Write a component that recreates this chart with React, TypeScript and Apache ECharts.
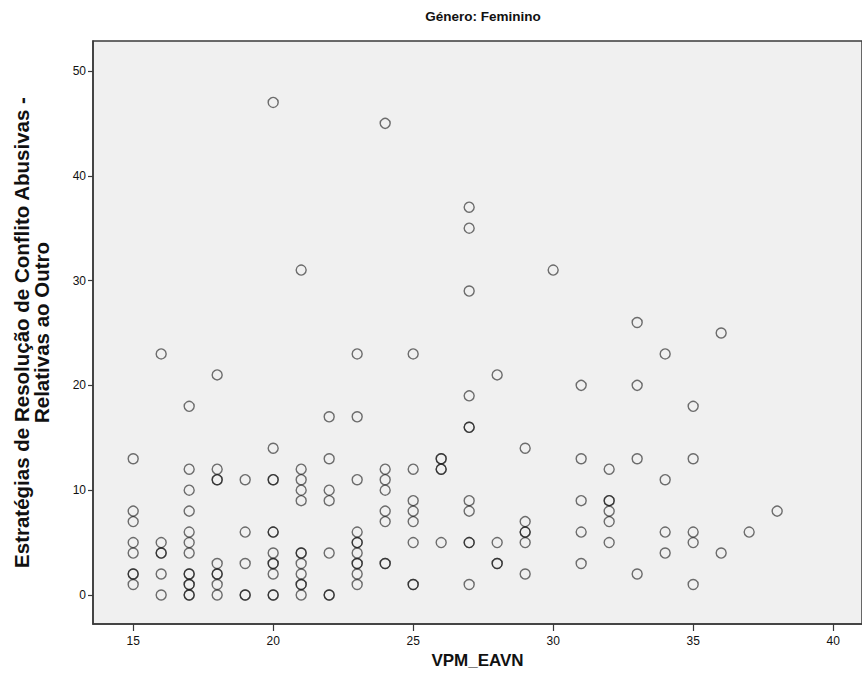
import React, { useEffect, useRef } from "react";
import * as echarts from "echarts";

// VPM_EAVN values (x) and the y values observed at each x
const vpmValues = [15, 16, 17, 18, 19, 20, 21, 22, 23, 24, 25, 26, 27, 28, 29, 30, 31, 32, 33, 34, 35, 36, 37, 38];
const abusivasByVpm: number[][] = [
  [13, 8, 7, 5, 4, 2, 2, 1],
  [23, 5, 4, 4, 2, 0],
  [18, 12, 10, 8, 6, 5, 4, 2, 2, 1, 1, 0, 0],
  [21, 12, 11, 11, 3, 2, 2, 1, 0],
  [11, 6, 3, 0, 0],
  [47, 14, 11, 11, 6, 6, 4, 3, 3, 2, 0, 0],
  [31, 12, 11, 10, 9, 4, 4, 3, 2, 1, 1, 0],
  [17, 13, 10, 9, 4, 0, 0],
  [23, 17, 11, 6, 5, 5, 4, 3, 3, 2, 1],
  [45, 12, 11, 10, 8, 7, 3, 3],
  [23, 12, 9, 8, 7, 5, 1, 1],
  [13, 13, 12, 12, 5],
  [37, 35, 29, 19, 16, 16, 9, 8, 5, 5, 1],
  [21, 5, 3, 3],
  [14, 7, 6, 6, 5, 2],
  [31],
  [20, 13, 9, 6, 3],
  [12, 9, 9, 8, 7, 5],
  [26, 20, 13, 2],
  [23, 11, 6, 4],
  [18, 13, 6, 5, 1],
  [25, 4],
  [6],
  [8],
];

const xTicks = [15, 20, 25, 30, 35, 40];
const yTicks = [0, 10, 20, 30, 40, 50];

const titleText = "Género: Feminino";
const xName = "VPM_EAVN";
const yName = "Estratégias de Resolução de Conflito Abusivas -\nRelativas ao Outro";

export default function App() {
  const ref = useRef<HTMLDivElement>(null);

  useEffect(() => {
    if (!ref.current) return;
    const chart = echarts.init(ref.current, undefined, { renderer: "svg" });
    const data: number[][] = [];
    vpmValues.forEach((x, i) => {
      abusivasByVpm[i].forEach((y) => data.push([x, y]));
    });
    const axisColor = "#3a3a3a";
    const font = "'Liberation Sans', Arial, sans-serif";
    chart.setOption({
      animation: false,
      backgroundColor: "#ffffff",
      title: {
        text: titleText,
        left: 478,
        top: 4,
        textAlign: "center",
        textStyle: { fontFamily: font, fontSize: 13.5, fontWeight: "bold", color: "#111" },
      },
      grid: {
        left: 93,
        top: 41,
        right: -1,
        bottom: 65,
        show: true,
        backgroundColor: "#f0f0f0",
        borderColor: axisColor,
        borderWidth: 1.5,
      },
      xAxis: {
        type: "value",
        min: 13.565,
        max: 41.03,
        name: xName,
        nameLocation: "middle",
        nameGap: 20,
        nameTextStyle: { fontFamily: font, fontSize: 17, fontWeight: "bold", color: "#111" },
        splitLine: { show: false },
        axisLine: { show: true, onZero: false, lineStyle: { color: axisColor, width: 1.5 } },
        axisTick: { show: true, length: 7, customValues: xTicks, lineStyle: { color: axisColor, width: 1.2 } },
        axisLabel: { customValues: xTicks, margin: 11, fontFamily: font, fontSize: 12, color: "#111" },
      },
      yAxis: {
        type: "value",
        min: -2.77,
        max: 52.86,
        name: yName,
        nameLocation: "middle",
        nameRotate: 90,
        nameGap: 42,
        nameTextStyle: { fontFamily: font, fontSize: 20.5, fontWeight: "bold", color: "#111", lineHeight: 20, align: "center" },
        splitLine: { show: false },
        axisLine: { show: true, onZero: false, lineStyle: { color: axisColor, width: 1.5 } },
        axisTick: { show: true, length: 5, customValues: yTicks, lineStyle: { color: axisColor, width: 1.2 } },
        axisLabel: { customValues: yTicks, margin: 7, fontFamily: font, fontSize: 12, color: "#111" },
      },
      series: [
        {
          type: "scatter",
          data,
          symbol: "circle",
          symbolSize: 10,
          itemStyle: {
            color: "rgba(0,0,0,0)",
            borderColor: "rgba(20,20,20,0.75)",
            borderWidth: 1.4,
          },
        },
      ],
    });
    return () => chart.dispose();
  }, []);

  return (
    <div
      ref={ref}
      style={{ position: "fixed", left: 0, top: 0, width: 862, height: 689 }}
    />
  );
}
